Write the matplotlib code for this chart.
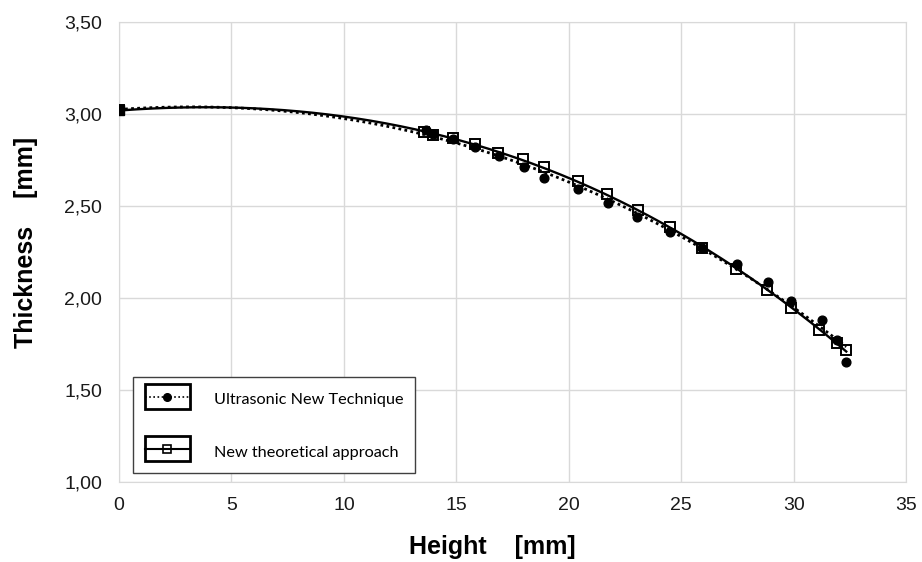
"""Thickness profile: ultrasonic measurement vs. theoretical approach."""

from __future__ import annotations

import matplotlib

matplotlib.use("Agg")
import matplotlib.pyplot as plt
import numpy as np
from matplotlib.legend_handler import HandlerLine2D
from matplotlib.lines import Line2D
from matplotlib.patches import Rectangle
from matplotlib.ticker import FuncFormatter, MultipleLocator

# Ultrasonic New Technique (filled circles)
HEIGHT_US = [0, 13.65, 13.96, 14.85, 15.83, 16.90, 18.00, 18.90, 20.40, 21.74,
             23.03, 24.50, 25.92, 27.48, 28.86, 29.88, 31.26, 31.93, 32.33]
THICK_US = [3.02, 2.913, 2.89, 2.864, 2.82, 2.77, 2.71, 2.65, 2.59, 2.516,
            2.44, 2.36, 2.27, 2.185, 2.087, 1.984, 1.88, 1.77, 1.652]

# New theoretical approach (open squares)
HEIGHT_TH = [0, 13.56, 13.96, 14.85, 15.83, 16.85, 17.96, 18.90, 20.40, 21.70,
             23.07, 24.50, 25.92, 27.43, 28.81, 29.88, 31.12, 31.93, 32.33]
THICK_TH = [3.02, 2.90, 2.886, 2.87, 2.837, 2.79, 2.755, 2.71, 2.636, 2.565,
            2.48, 2.386, 2.272, 2.158, 2.043, 1.946, 1.826, 1.755, 1.717]

LABELS = ["Ultrasonic New Technique", "New theoretical approach"]
GRID = "#d9d9d9"


class BoxedHandler(HandlerLine2D):
    """Legend handle drawn inside a black frame, like the original icons."""

    box_height = 18  # points

    def create_artists(self, legend, orig_handle, xdescent, ydescent, width, height, fontsize, trans):
        artists = super().create_artists(legend, orig_handle, xdescent, ydescent, width, height, fontsize, trans)
        mid = (height - ydescent) / 2
        frame = Rectangle((-xdescent, mid - self.box_height / 2), width, self.box_height,
                          fill=False, lw=2, ec="black", transform=trans)
        return [frame] + list(artists)


def trend(x, y, degree=3):
    coeffs = np.polyfit(x, y, degree)
    xs = np.linspace(min(x), max(x), 200)
    return xs, np.polyval(coeffs, xs)


def main() -> None:
    plt.rcParams["font.family"] = ["Liberation Sans", "DejaVu Sans"]
    fig = plt.figure(figsize=(9.22, 5.62), dpi=100)
    ax = fig.add_axes([0.129, 0.1423, 0.854, 0.8185])

    xs, ys = trend(HEIGHT_US, THICK_US)
    ax.plot(xs, ys, color="black", lw=2, ls=(0, (1, 1.2)), zorder=3)
    xs, ys = trend(HEIGHT_TH, THICK_TH)
    ax.plot(xs, ys, color="black", lw=1.7, zorder=3)

    ax.plot(HEIGHT_US, THICK_US, ls="none", marker="o", ms=6.3, color="black", zorder=4)
    ax.plot(HEIGHT_TH, THICK_TH, ls="none", marker="s", ms=7.5, mfc="none",
            mec="black", mew=1.4, zorder=5)
    ax.plot([HEIGHT_TH[0]], [THICK_TH[0]], ls="none", marker="s", ms=7.5, color="black", zorder=6)

    ax.set_xlim(0, 35)
    ax.set_ylim(1.0, 3.5)
    ax.xaxis.set_major_locator(MultipleLocator(5))
    ax.yaxis.set_major_locator(MultipleLocator(0.5))
    ax.yaxis.set_major_formatter(FuncFormatter(lambda v, _: f"{v:.2f}".replace(".", ",")))
    ax.grid(True, color=GRID, lw=1)
    ax.set_axisbelow(True)
    for spine in ax.spines.values():
        spine.set_color(GRID)
    ax.tick_params(length=0, labelsize=14, colors="#1a1a1a")
    ax.tick_params(axis="x", pad=11)
    ax.tick_params(axis="y", pad=12)

    ax.set_xlabel("Height    [mm]", fontsize=18, fontweight="bold")
    ax.set_ylabel("Thickness    [mm]", fontsize=18, fontweight="bold")
    ax.xaxis.set_label_coords(0.4746, -0.115)
    ax.yaxis.set_label_coords(-0.103, 0.52)

    handles = [
        Line2D([], [], color="black", lw=1.2, ls=(0, (1, 1.5)), marker="o", ms=5.5),
        Line2D([], [], color="black", lw=1.5, marker="s", ms=6, mfc="none", mew=1.2),
    ]
    legend = ax.legend(
        handles, LABELS, loc="lower left", bbox_to_anchor=(0.018, 0.02), borderaxespad=0,
        handler_map={Line2D: BoxedHandler()}, prop={"family": "Lato", "size": 11.7},
        handlelength=2.77, handleheight=1.5, handletextpad=1.48, labelspacing=2.0,
        borderpad=0.72, fancybox=False, framealpha=1, edgecolor="#404040",
    )
    legend.get_frame().set_linewidth(1)

    fig.savefig("out.png", dpi=100)


if __name__ == "__main__":
    main()
